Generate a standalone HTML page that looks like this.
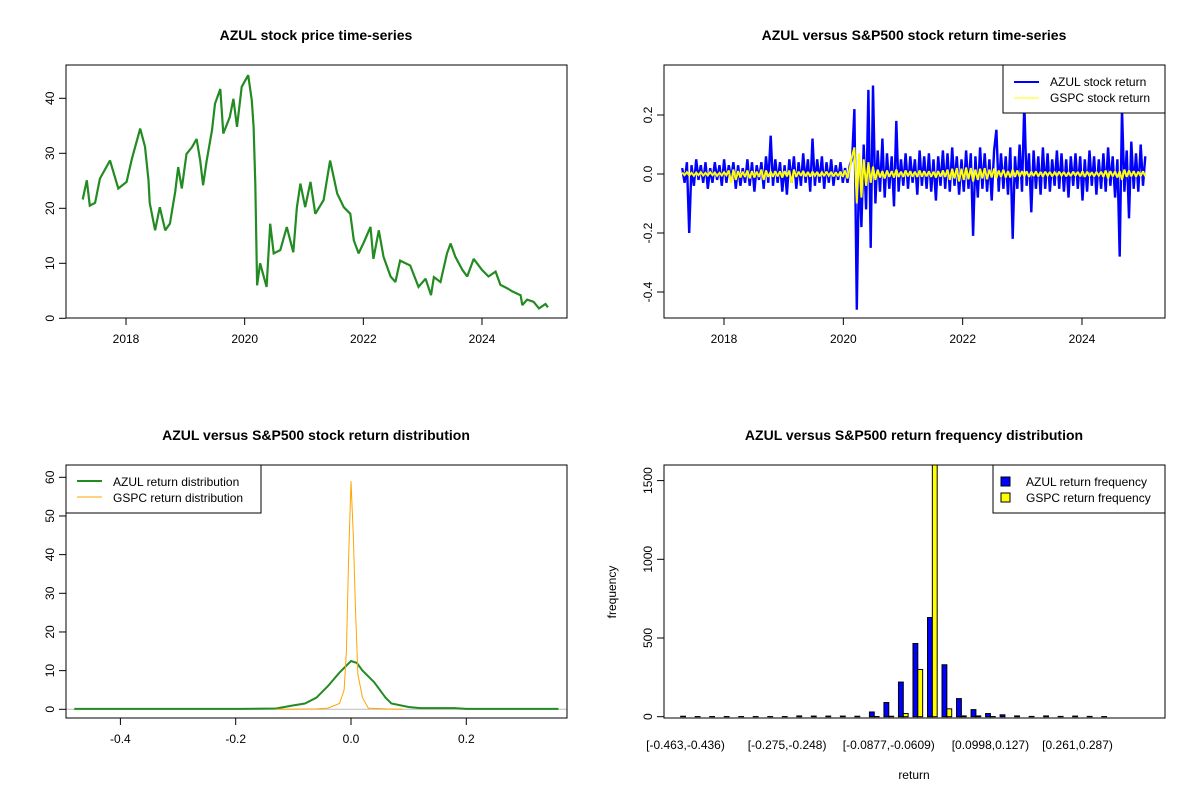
<!DOCTYPE html>
<html><head><meta charset="utf-8"><style>
body{margin:0;background:#fff}
svg{display:block;font-family:"Liberation Sans",Arial,sans-serif}
</style></head><body>
<svg id="c" width="1200" height="800" viewBox="0 0 1200 800">
<rect width="1200" height="800" fill="#fff"/>
<defs>
<clipPath id="cp1"><rect x="66" y="65" width="501" height="253"/></clipPath>
<clipPath id="cp2"><rect x="664" y="65" width="501" height="253"/></clipPath>
<clipPath id="cp3"><rect x="66" y="465" width="501" height="253"/></clipPath>
<clipPath id="cp4"><rect x="664" y="465" width="501" height="253"/></clipPath>
</defs>
<g font-weight="bold" font-size="14" text-anchor="middle" fill="#000">
<text x="316" y="40">AZUL stock price time-series</text>
<text x="914" y="40">AZUL versus S&amp;P500 stock return time-series</text>
<text x="316" y="440">AZUL versus S&amp;P500 stock return distribution</text>
<text x="914" y="440">AZUL versus S&amp;P500 return frequency distribution</text>
</g>
<text x="914" y="779" font-size="12" text-anchor="middle">return</text>
<text transform="translate(616,592) rotate(-90)" font-size="12" text-anchor="middle">frequency</text>
<g id="layer"></g>
</svg>
<script>
// ---- Panel 1: price ----
const priceYears=[2017.27,2017.34,2017.39,2017.48,2017.56,2017.73,2017.87,2018.01,2018.1,2018.24,2018.32,2018.38,2018.4,2018.49,2018.57,2018.66,2018.74,2018.83,2018.88,2018.94,2019.02,2019.11,2019.19,2019.25,2019.3,2019.36,2019.45,2019.5,2019.59,2019.64,2019.75,2019.81,2019.87,2019.95,2020.06,2020.12,2020.15,2020.18,2020.21,2020.26,2020.37,2020.43,2020.49,2020.6,2020.71,2020.82,2020.88,2020.94,2021.02,2021.11,2021.19,2021.33,2021.44,2021.56,2021.67,2021.78,2021.84,2021.92,2022.0,2022.12,2022.17,2022.26,2022.34,2022.46,2022.54,2022.62,2022.79,2022.93,2023.05,2023.14,2023.19,2023.3,2023.41,2023.47,2023.55,2023.67,2023.75,2023.86,2024.0,2024.11,2024.23,2024.31,2024.42,2024.51,2024.65,2024.68,2024.76,2024.87,2024.96,2025.07,2025.11];
const priceValues=[21.6,25.1,20.5,21,25.4,28.7,23.6,24.8,29,34.5,31.2,25.1,21,16,20.2,16,17.2,23,27.5,23.6,29.9,31.1,32.6,28.7,24.2,28.7,34.2,39,41.7,33.6,36.6,39.9,34.8,42.1,44.2,39.6,34.8,24.5,6.0,10,5.7,17.2,11.8,12.4,16.6,12,20.2,24.5,20.2,24.8,19,21.5,28.7,22.7,20.2,19,14.2,11.8,13.6,16.6,10.8,16,11.2,7.6,6.6,10.5,9.6,5.7,7.2,4.2,7.5,6.6,11.8,13.6,11.2,8.8,7.6,10.8,8.8,7.6,8.5,6.1,5.5,4.9,4.2,2.4,3.4,3.0,1.8,2.6,2.0];
const yearTicks=[2018,2020,2022,2024];
const priceTicks=[0,10,20,30,40];
// ---- Panel 2: returns (evenly spaced trading samples) ----
const retStartYear=2017.3, retStepYears=0.039;
const azulReturns=[0.02,-0.03,0.04,-0.20,0.03,-0.04,0.05,-0.02,0.03,-0.03,0.04,-0.05,0.02,-0.03,0.04,-0.02,0.03,-0.04,0.05,-0.03,
0.03,-0.02,0.04,-0.05,0.03,-0.04,0.02,-0.03,0.05,-0.04,0.04,-0.06,0.03,-0.02,0.04,-0.05,0.06,-0.03,0.13,-0.04,
0.05,-0.03,0.04,-0.06,0.03,-0.07,0.05,-0.03,0.06,-0.05,0.04,-0.04,0.07,-0.03,0.05,-0.06,0.12,-0.04,0.05,-0.03,
0.06,-0.05,0.04,-0.03,0.05,-0.04,0.03,-0.02,0.04,-0.03,0.02,-0.03,0.03,0.05,0.22,-0.46,0.05,-0.18,0.10,-0.12,
0.285,-0.25,0.30,-0.10,0.08,-0.06,0.12,-0.08,0.07,-0.05,0.06,-0.11,0.18,-0.06,0.05,-0.04,0.07,-0.05,0.06,-0.03,
0.05,-0.07,0.08,-0.04,0.06,-0.05,0.07,-0.06,0.05,-0.09,0.06,-0.04,0.08,-0.05,0.07,-0.06,0.09,-0.04,0.06,-0.07,
0.05,-0.06,0.08,-0.05,0.07,-0.21,0.06,-0.08,0.09,-0.05,0.07,-0.06,0.05,-0.09,0.08,0.15,-0.06,0.07,-0.05,0.06,
-0.07,0.09,-0.22,0.06,-0.05,0.10,-0.06,0.24,-0.04,0.07,-0.13,0.08,-0.05,0.06,-0.07,0.09,-0.05,0.07,-0.06,0.05,
-0.04,0.08,-0.05,0.07,-0.06,0.05,-0.08,0.06,-0.04,0.07,-0.05,0.06,-0.09,0.05,-0.06,0.08,-0.04,0.06,-0.07,0.05,
-0.05,0.07,-0.06,0.09,-0.04,0.06,-0.08,0.05,-0.28,0.22,-0.06,0.08,-0.15,0.11,-0.05,0.07,-0.06,0.10,-0.04,0.06];
const gspcReturns=[0.005,-0.004,0.006,-0.005,0.004,-0.006,0.005,-0.004,0.006,-0.005,0.004,-0.005,0.006,-0.004,0.005,-0.006,0.004,-0.005,0.006,-0.004,
0.012,-0.03,0.015,-0.02,0.01,-0.012,0.008,-0.01,0.012,-0.015,0.01,-0.012,0.008,-0.01,0.015,-0.02,0.012,-0.01,0.008,-0.009,
0.01,-0.008,0.009,-0.012,0.01,-0.008,0.012,-0.03,0.015,-0.01,0.008,-0.006,0.01,-0.008,0.007,-0.009,0.008,-0.006,0.007,-0.008,
0.006,-0.007,0.008,-0.006,0.007,-0.008,0.006,-0.007,0.008,-0.01,0.012,-0.015,0.02,0.06,0.09,-0.10,0.07,-0.08,0.05,-0.04,
0.04,-0.03,0.025,-0.02,0.015,-0.012,0.01,-0.015,0.012,-0.01,0.01,-0.012,0.015,-0.01,0.008,-0.01,0.012,-0.008,0.01,-0.009,
0.008,-0.01,0.012,-0.009,0.01,-0.008,0.009,-0.01,0.008,-0.012,0.01,-0.009,0.012,-0.01,0.015,-0.02,0.018,-0.015,0.02,-0.025,
0.018,-0.02,0.022,-0.018,0.02,-0.025,0.015,-0.02,0.018,-0.015,0.02,-0.018,0.015,-0.012,0.018,-0.015,0.012,-0.01,0.015,-0.012,
0.01,-0.012,0.015,-0.01,0.012,-0.009,0.01,-0.008,0.009,-0.01,0.008,-0.007,0.009,-0.008,0.007,-0.009,0.008,-0.006,0.007,-0.008,
0.006,-0.007,0.008,-0.006,0.007,-0.008,0.006,-0.007,0.008,-0.006,0.007,-0.008,0.009,-0.01,0.008,-0.007,0.006,-0.008,0.007,-0.006,
0.008,-0.01,0.012,-0.015,0.01,-0.008,0.009,-0.012,0.01,-0.02,0.015,-0.01,0.012,-0.008,0.01,-0.009,0.008,-0.007,0.009,-0.008];
const returnTicks=[-0.4,-0.2,0.0,0.2];
// ---- Panel 3: densities ----
const azulDensX=[-0.48,-0.19,-0.13,-0.1,-0.08,-0.06,-0.04,-0.02,0,0.01,0.02,0.04,0.06,0.07,0.1,0.12,0.18,0.2,0.36];
const azulDensY=[0.1,0.1,0.2,1,1.5,3,6,9.5,12.5,12,10,7,3,1.5,0.6,0.3,0.3,0.1,0.1];
const gspcDensX=[-0.13,-0.06,-0.04,-0.02,-0.012,-0.008,-0.004,0,0.004,0.008,0.012,0.02,0.03,0.06,0.09];
const gspcDensY=[0,0.1,0.3,1.5,5,15,40,59,45,25,9,3,0.3,0.1,0];
const densXTicks=[-0.4,-0.2,0.0,0.2];
const densYTicks=[0,10,20,30,40,50,60];
// ---- Panel 4: histogram ----
const binLabels=["[-0.463,-0.436)","[-0.275,-0.248)","[-0.0877,-0.0609)","[0.0998,0.127)","[0.261,0.287)"];
const binLabelIdx=[0,7,14,21,27];
const azulFreq=[3,1,1,1,1,1,1,1,5,4,4,4,3,30,90,220,465,630,330,115,45,20,12,5,2,5,2,4,2,1];
const gspcFreq=[0,0,0,0,0,0,0,0,0,0,0,0,0,1,3,20,300,1650,50,5,5,1,0,0,0,0,0,0,0,0];
const freqTicks=[0,500,1000,1500];

const NS="http://www.w3.org/2000/svg";
const layer=document.getElementById('layer');
function mk(tag,attrs,parent){const e=document.createElementNS(NS,tag);for(const k in attrs)e.setAttribute(k,attrs[k]);(parent||layer).appendChild(e);return e;}
function lin(d0,d1,r0,r1){return v=>r0+(v-d0)*(r1-r0)/(d1-d0);}

function frame(x,y,w,h,name){const r=mk('rect',{x:x,y:y,width:w,height:h,fill:'none',stroke:'#000','stroke-width':1});

}
function xTicks(vals,sx,yb,labels,name){const g=mk('g',{});


vals.forEach((v,i)=>{const x=sx(v);mk('line',{x1:x,y1:yb,x2:x,y2:yb+7,stroke:'#000'},g);
const t=mk('text',{x:x,y:yb+25,'font-size':12,'text-anchor':'middle'},g);t.textContent=labels?labels[i]:String(v);});}
function yTicks(vals,sy,xl,name,fmt){const g=mk('g',{});


vals.forEach(v=>{const y=sy(v);mk('line',{x1:xl,y1:y,x2:xl-7,y2:y,stroke:'#000'},g);
const t=mk('text',{transform:`translate(${xl-12},${y}) rotate(-90)`,'font-size':12,'text-anchor':'middle'},g);t.textContent=fmt?fmt(v):String(v);});}
function poly(xs,ys,sx,sy,stroke,sw,clip,name){const pts=xs.map((x,i)=>sx(x).toFixed(1)+','+sy(ys[i]).toFixed(1)).join(' ');
const p=mk('polyline',{points:pts,fill:'none',stroke:stroke,'stroke-width':sw,'clip-path':`url(#${clip})`,'stroke-linejoin':'miter','stroke-miterlimit':2});

}

// Panel 1
const sx1=lin(2018,2024,126,482), sy1=lin(0,40,318.3,98.3);
poly(priceYears,priceValues,sx1,sy1,'#228B22',2.2,'cp1','price-line');
frame(66,65,501,253,'price-plot-frame');
xTicks(yearTicks,sx1,318,null,'price-x-axis');
yTicks(priceTicks,sy1,66,'price-y-axis');

// Panel 2
const sx2=lin(2018,2024,724,1082), sy2=lin(0,0.2,174,115);
const retYears=azulReturns.map((_,i)=>retStartYear+i*retStepYears);
poly(retYears,azulReturns,sx2,sy2,'#0000FF',2.4,'cp2','azul-return-line');
poly(retYears,gspcReturns,sx2,sy2,'#FFFF00',2,'cp2','gspc-return-line');
frame(664,65,501,253,'return-plot-frame');
xTicks(yearTicks,sx2,318,null,'return-x-axis');
yTicks(returnTicks,sy2,664,'return-y-axis',v=>v.toFixed(1));
{const g=mk('g',{});


mk('rect',{x:1003,y:65,width:162,height:48,fill:'#fff',stroke:'#000'},g);
mk('line',{x1:1014,y1:82,x2:1039,y2:82,stroke:'#0000FF','stroke-width':2},g);
mk('line',{x1:1014,y1:98,x2:1039,y2:98,stroke:'#FFFF00','stroke-width':1},g);
let t=mk('text',{x:1050,y:86,'font-size':12},g);t.textContent='AZUL stock return';
t=mk('text',{x:1050,y:102,'font-size':12},g);t.textContent='GSPC stock return';}

// Panel 3
const sx3=lin(0,0.2,351,466.3), sy3=lin(0,60,709.3,477.3);
{const l=mk('line',{x1:66,y1:sy3(0),x2:567,y2:sy3(0),stroke:'#bebebe'});

}
poly(azulDensX,azulDensY,sx3,sy3,'#228B22',2,'cp3','azul-density-line');
poly(gspcDensX,gspcDensY,sx3,sy3,'#FFA500',1,'cp3','gspc-density-line');
frame(66,465,501,253,'density-plot-frame');
xTicks(densXTicks,sx3,718,densXTicks.map(v=>v.toFixed(1)),'density-x-axis');
yTicks(densYTicks,sy3,66,'density-y-axis');
{const g=mk('g',{});


mk('rect',{x:66,y:465,width:195,height:48,fill:'#fff',stroke:'#000'},g);
mk('line',{x1:77,y1:481,x2:102,y2:481,stroke:'#228B22','stroke-width':2},g);
mk('line',{x1:77,y1:497,x2:102,y2:497,stroke:'#FFA500','stroke-width':1},g);
let t=mk('text',{x:113,y:486,'font-size':12},g);t.textContent='AZUL return distribution';
t=mk('text',{x:113,y:502,'font-size':12},g);t.textContent='GSPC return distribution';}

// Panel 4
const unit=4.84, grp0=685.5;
const gc=i=>grp0+i*3*unit;
const sy4=lin(0,500,716.7,638);
azulFreq.forEach((v,i)=>{const r=mk('rect',{x:gc(i)-unit,y:sy4(v),width:unit,height:sy4(0)-sy4(v),fill:'#0000FF',stroke:'#000','stroke-width':1,'clip-path':'url(#cp4)'});

});
gspcFreq.forEach((v,i)=>{const r=mk('rect',{x:gc(i),y:sy4(v),width:unit,height:sy4(0)-sy4(v),fill:'#FFFF00',stroke:'#000','stroke-width':1,'clip-path':'url(#cp4)'});

});
frame(664,465,501,253,'frequency-plot-frame');
{const g=mk('g',{});


binLabelIdx.forEach((b,i)=>{const t=mk('text',{x:gc(b),y:749,'font-size':12,'text-anchor':'middle'},g);t.textContent=binLabels[i];});}
yTicks(freqTicks,sy4,664,'frequency-y-axis');
{const g=mk('g',{});


mk('rect',{x:993,y:465,width:172,height:48,fill:'#fff',stroke:'#000'},g);
mk('rect',{x:1001,y:477,width:9,height:9,fill:'#0000FF',stroke:'#000'},g);
mk('rect',{x:1001,y:493,width:9,height:9,fill:'#FFFF00',stroke:'#000'},g);
let t=mk('text',{x:1026,y:486,'font-size':12},g);t.textContent='AZUL return frequency';
t=mk('text',{x:1026,y:502,'font-size':12},g);t.textContent='GSPC return frequency';}
</script>
</body></html>
